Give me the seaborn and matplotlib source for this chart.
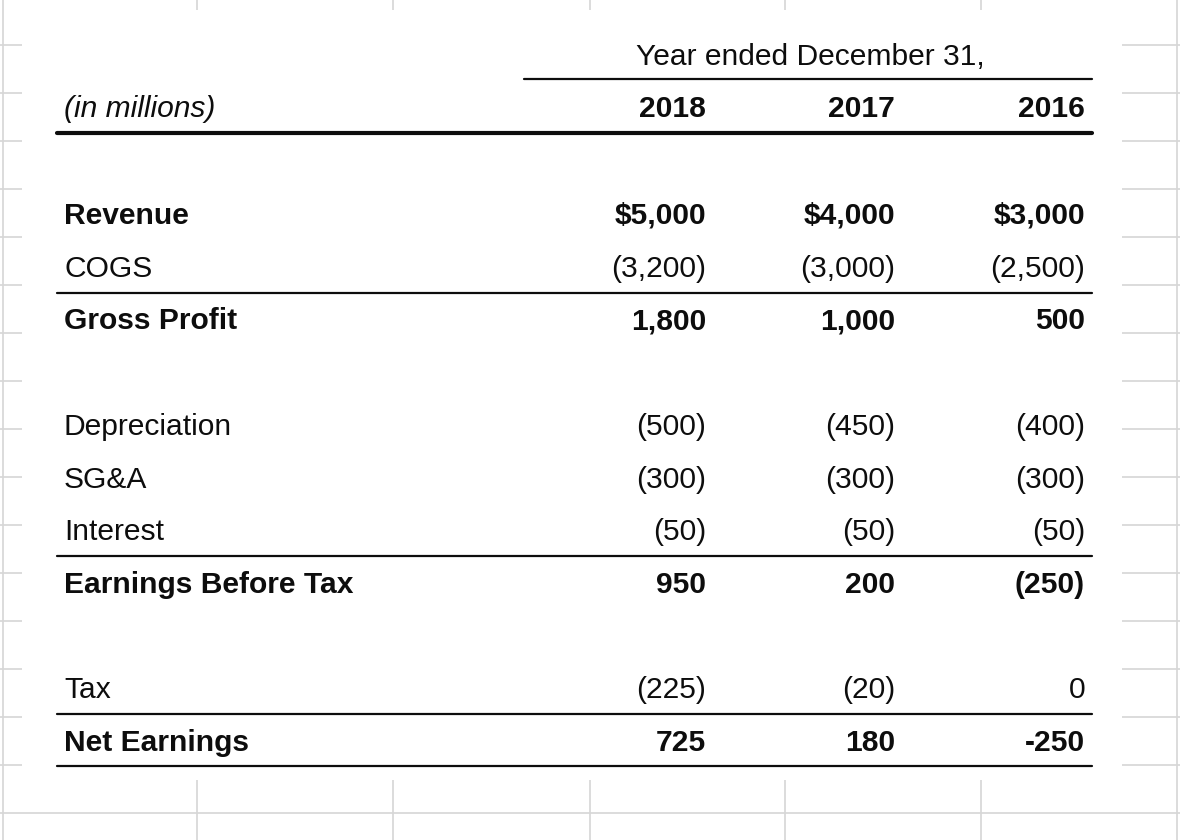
import numpy as np
import pandas as pd
import seaborn as sns
import matplotlib.pyplot as plt
from matplotlib.patches import Rectangle

# income statement data
row_labels = ["Revenue", "COGS", "Gross Profit", "Depreciation", "SG&A", "Interest",
              "Earnings Before Tax", "Tax", "Net Earnings"]
years = ["2018", "2017", "2016"]
values_2018 = [5000, -3200, 1800, -500, -300, -50, 950, -225, 725]
values_2017 = [4000, -3000, 1000, -450, -300, -50, 200, -20, 180]
values_2016 = [3000, -2500, 500, -400, -300, -50, -250, 0, -250]
bold_rows = ["Revenue", "Gross Profit", "Earnings Before Tax", "Net Earnings"]

df = pd.DataFrame({"2018": values_2018, "2017": values_2017, "2016": values_2016},
                  index=row_labels)


def fmt(label, v):
    if label == "Net Earnings":
        return f"{v:,}"
    if v < 0:
        return f"({-v:,})"
    s = f"{v:,}"
    return "$" + s if label == "Revenue" else s


sns.set_theme(style="white")
plt.rcParams['font.family'] = ['Liberation Sans', 'DejaVu Sans']

fig = plt.figure(figsize=(11.8, 8.4), dpi=100)
ax = fig.add_axes([0, 0, 1, 1])
ax.set_xlim(0, 1180)
ax.set_ylim(840, 0)
ax.axis('off')

# spreadsheet grid behind the pasted picture
grid_c = '#d6d6d6'
for x in [3, 197, 393, 590, 785, 981, 1177]:
    ax.plot([x, x], [0, 840], color=grid_c, lw=1.2, zorder=0)
for y in np.arange(45, 840, 48):
    ax.plot([0, 1180], [y, y], color=grid_c, lw=1.2, zorder=0)
ax.add_patch(Rectangle((22, 10), 1100, 770, facecolor='white', edgecolor='none', zorder=1))

ink = '#0d0d0d'
fs = 21.6
col_x = [706, 895, 1085]
label_x = 64
slots = [0, 1, 2, 4, 5, 6, 7, 9, 10]
base0, pitch = 224, 52.7

# header
ax.text(810, 65, "Year ended December 31,", ha='center', va='baseline', fontsize=fs, color=ink, zorder=3)
ax.plot([524, 1092], [79, 79], color=ink, lw=1.6, zorder=3)
ax.text(label_x, 117, "(in millions)", ha='left', va='baseline', fontsize=fs, style='italic',
        color=ink, zorder=3)
for x, yr in zip(col_x, years):
    ax.text(x, 117, yr, ha='right', va='baseline', fontsize=fs, fontweight='bold', color=ink, zorder=3)
ax.plot([57, 1092], [133, 133], color=ink, lw=3.0, zorder=3)

# body rows
for slot, label in zip(slots, df.index):
    y = base0 + pitch * slot
    w = 'bold' if label in bold_rows else 'normal'
    ax.text(label_x, y, label, ha='left', va='baseline', fontsize=fs, fontweight=w, color=ink, zorder=3)
    for x, yr in zip(col_x, years):
        ax.text(x, y, fmt(label, df.loc[label, yr]), ha='right', va='baseline', fontsize=fs,
                fontweight=w, color=ink, zorder=3)

# rule lines under subtotals
for y in [293, 556, 714, 766]:
    ax.plot([57, 1092], [y, y], color=ink, lw=1.6, zorder=3)

fig.savefig("out.png", dpi=100)
